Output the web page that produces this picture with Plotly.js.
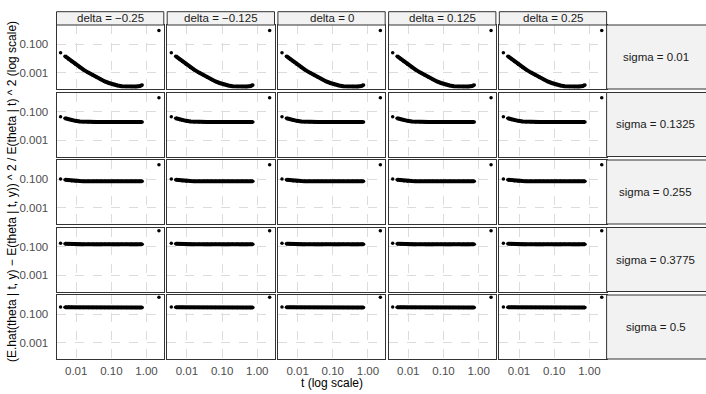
<!DOCTYPE html>
<html>
<head>
<meta charset="utf-8">
<script src="https://cdn.plot.ly/plotly-3.0.1.min.js"></script>
<style>
html, body { margin: 0; padding: 0; background: #fff; }
#plot { width: 706px; height: 394px; }
</style>
</head>
<body>
<div id="plot"></div>
<script>
// facet labels
var deltas = ['\u22120.25', '\u22120.125', '0', '0.125', '0.25'];
var sigmas = ['0.01', '0.1325', '0.255', '0.3775', '0.5'];

// t values
var tVals = [0.0036, 0.0048, 0.0062, 0.0075, 0.0095, 0.0127, 0.016, 0.022, 0.03, 0.038, 0.05,
	0.065, 0.085, 0.112, 0.15, 0.195, 0.27, 0.375, 0.5, 0.646, 0.75];

// relative squared error, one array per sigma row (same in every delta column)
var errSigma001 = [0.0252, 0.0143, 0.0087, 0.0061, 0.0039, 0.0023, 0.0016, 0.001, 0.00065, 0.000466, 0.00033,
	0.00024, 0.000187, 0.000145, 0.000125, 0.00011, 0.000105, 0.000104, 0.000108, 0.000115, 0.000135];
var errSigma01325 = [0.044, 0.034, 0.028, 0.025, 0.0225, 0.0205, 0.0195, 0.0192, 0.019, 0.019, 0.019,
	0.019, 0.019, 0.019, 0.019, 0.019, 0.019, 0.019, 0.019, 0.019, 0.019];
var errSigma0255 = [0.1, 0.089, 0.082, 0.078, 0.075, 0.073, 0.072, 0.0715, 0.071, 0.071, 0.071,
	0.071, 0.071, 0.071, 0.071, 0.071, 0.071, 0.071, 0.071, 0.071, 0.071];
var errSigma03775 = [0.172, 0.158, 0.152, 0.15, 0.149, 0.148, 0.148, 0.148, 0.148, 0.148, 0.148,
	0.148, 0.148, 0.148, 0.148, 0.148, 0.148, 0.148, 0.148, 0.148, 0.148];
var errSigma05 = [0.31, 0.302, 0.299, 0.297, 0.296, 0.296, 0.296, 0.296, 0.296, 0.296, 0.296,
	0.296, 0.296, 0.296, 0.296, 0.296, 0.296, 0.296, 0.296, 0.296, 0.296];

// the lone point at large t in each row
var outlierT = 2.25;
var outlierErr = [0.91, 0.95, 1.0, 1.29, 1.5];

var rows = [errSigma001, errSigma01325, errSigma0255, errSigma03775, errSigma05];

// page geometry (pixels)
var W = 706, H = 394;
var PANEL_L = 56.5, PANEL_W = 107.3, COL_STEP = 110.7;
var PANEL_T = 25, PANEL_H = 64, ROW_STEP = 67.5;
var STRIP_TOP = 11.7;
var RSTRIP_R = 708;

function fx(px){ return px / W; }
function fy(py){ return 1 - py / H; }

var FONT = 'Liberation Sans, Arial, sans-serif';
var GRID = '#dcdcdc';
var BORDER = '#333333';

var data = [];
var layout = {
	width: W,
	height: H,
	margin: {l: 0, r: 0, t: 0, b: 0},
	paper_bgcolor: '#ffffff',
	plot_bgcolor: '#ffffff',
	showlegend: false,
	hovermode: false,
	font: {family: FONT, size: 11.5, color: '#4d4d4d'},
	shapes: [],
	annotations: []
};

for(var r = 0; r < 5; r++){
	for(var c = 0; c < 5; c++){
		var n = r * 5 + c + 1;
		var xa = 'x' + (n === 1 ? '' : n);
		var ya = 'y' + (n === 1 ? '' : n);
		var colL = PANEL_L + c * COL_STEP;
		var rowT = PANEL_T + r * ROW_STEP;

		layout['xaxis' + (n === 1 ? '' : n)] = {
			type: 'log',
			domain: [fx(colL), fx(colL + PANEL_W)],
			anchor: ya,
			range: [-2.56, 0.49],
			tickvals: [0.01, 0.1, 1],
			ticktext: ['0.01', '0.10', '1.00'],
			showticklabels: r === 4,
			ticks: '',
			ticklabelstandoff: 1,
			showgrid: true,
			gridcolor: GRID,
			griddash: 'dash',
			gridwidth: 1,
			showline: true,
			mirror: true,
			linecolor: BORDER,
			linewidth: 1,
			zeroline: false,
			fixedrange: true
		};
		layout['yaxis' + (n === 1 ? '' : n)] = {
			type: 'log',
			domain: [fy(rowT + PANEL_H), fy(rowT)],
			anchor: xa,
			range: [-4.15, 0.34],
			tickvals: [0.001, 0.1],
			ticktext: ['0.001', '0.100'],
			showticklabels: c === 0,
			ticks: '',
			ticklabelstandoff: 5,
			showgrid: true,
			gridcolor: GRID,
			griddash: 'dash',
			gridwidth: 1,
			showline: true,
			mirror: true,
			linecolor: BORDER,
			linewidth: 1,
			zeroline: false,
			fixedrange: true
		};

		var ys = rows[r];
		data.push({
			x: tVals.slice(1),
			y: ys.slice(1),
			xaxis: xa,
			yaxis: ya,
			type: 'scatter',
			mode: 'lines',
			line: {color: '#000000', width: 4}
		});
		data.push({
			x: tVals.concat([outlierT]),
			y: ys.concat([outlierErr[r]]),
			xaxis: xa,
			yaxis: ya,
			type: 'scatter',
			mode: 'markers',
			marker: {color: '#000000', size: 3.5}
		});
	}
}

// top strips (delta)
for(var c = 0; c < 5; c++){
	var colL = PANEL_L + c * COL_STEP;
	layout.shapes.push({
		type: 'rect', xref: 'paper', yref: 'paper',
		x0: fx(colL), x1: fx(colL + PANEL_W),
		y0: fy(PANEL_T), y1: fy(STRIP_TOP),
		fillcolor: '#f2f2f2',
		line: {color: BORDER, width: 1}
	});
	layout.annotations.push({
		xref: 'paper', yref: 'paper',
		x: fx(colL + PANEL_W / 2), y: fy((PANEL_T + STRIP_TOP) / 2),
		xanchor: 'center', yanchor: 'middle',
		text: 'delta = ' + deltas[c],
		showarrow: false,
		font: {family: FONT, size: 11.5, color: '#1a1a1a'}
	});
}

// right strips (sigma)
var stripL = PANEL_L + 4 * COL_STEP + PANEL_W;
for(var r = 0; r < 5; r++){
	var rowT = PANEL_T + r * ROW_STEP;
	layout.shapes.push({
		type: 'rect', xref: 'paper', yref: 'paper',
		x0: fx(stripL), x1: fx(RSTRIP_R),
		y0: fy(rowT + PANEL_H), y1: fy(rowT),
		fillcolor: '#f2f2f2',
		line: {color: BORDER, width: 1}
	});
	layout.annotations.push({
		xref: 'paper', yref: 'paper',
		x: fx((stripL + 705) / 2), y: fy(rowT + PANEL_H / 2),
		xanchor: 'center', yanchor: 'middle',
		text: 'sigma = ' + sigmas[r],
		showarrow: false,
		font: {family: FONT, size: 11.5, color: '#1a1a1a'}
	});
}

// axis titles
var plotMidX = (PANEL_L + stripL) / 2;
var plotMidY = (PANEL_T + PANEL_T + 4 * ROW_STEP + PANEL_H) / 2;
layout.annotations.push({
	xref: 'paper', yref: 'paper',
	x: fx(plotMidX), y: fy(383),
	xanchor: 'center', yanchor: 'middle',
	text: 't (log scale)',
	showarrow: false,
	font: {family: FONT, size: 12, color: '#000000'}
});
layout.annotations.push({
	xref: 'paper', yref: 'paper',
	x: fx(12), y: fy(plotMidY),
	xanchor: 'center', yanchor: 'middle',
	textangle: -90,
	text: '(E.hat(theta | t, y) \u2212 E(theta | t, y)) ^ 2 / E(theta | t) ^ 2 (log scale)',
	showarrow: false,
	font: {family: FONT, size: 12, color: '#000000'}
});

Plotly.newPlot('plot', data, layout, {staticPlot: true, displayModeBar: false});
</script>
</body>
</html>
